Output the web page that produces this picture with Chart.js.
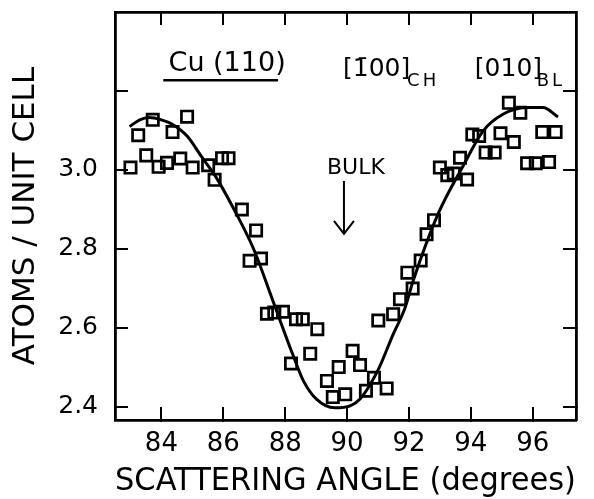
<!DOCTYPE html>
<html>
<head>
<meta charset="utf-8">
<script src="https://cdn.jsdelivr.net/npm/chart.js@4/dist/chart.umd.min.js"></script>
<style>
  html, body { margin: 0; background: #fff; }
  canvas { display: block; }
</style>
</head>
<body>
<canvas id="chart" width="594" height="499"></canvas>
<script>
// measured yield, atoms per unit cell vs scattering angle
const angle = [83.0, 83.25, 83.51, 83.72, 83.91, 84.18, 84.36, 84.61, 84.83, 85.01,
  85.51, 85.72, 85.96, 86.17, 86.60, 86.85, 87.06, 87.22, 87.41, 87.65,
  87.93, 88.19, 88.35, 88.57, 88.81, 89.04, 89.35, 89.54, 89.73, 89.94,
  90.18, 90.42, 90.61, 90.87, 91.01, 91.28, 91.49, 91.71, 91.95, 92.12,
  92.38, 92.57, 92.81, 93.00, 93.24, 93.45, 93.65, 93.88, 94.05, 94.27,
  94.48, 94.77, 94.96, 95.23, 95.39, 95.60, 95.82, 96.10, 96.31, 96.53, 96.74];
const atoms = [3.006, 3.088, 3.037, 3.127, 3.008, 3.018, 3.096, 3.029, 3.135, 3.006,
  3.012, 2.975, 3.030, 3.030, 2.900, 2.770, 2.847, 2.776, 2.636, 2.639,
  2.641, 2.510, 2.622, 2.622, 2.535, 2.597, 2.466, 2.425, 2.501, 2.432,
  2.542, 2.506, 2.441, 2.474, 2.619, 2.447, 2.635, 2.673, 2.740, 2.700,
  2.771, 2.837, 2.873, 3.006, 2.987, 2.991, 3.031, 2.976, 3.090, 3.086,
  3.044, 3.044, 3.093, 3.170, 3.071, 3.145, 3.017, 3.017, 3.096, 3.020, 3.096];

// calculated curve
const fitAngle = [82.97, 83.3, 83.6, 84.0, 84.35, 84.83, 85.33, 85.74, 86.28, 86.98,
  87.62, 88.25, 88.59, 89.02, 89.6, 90.1, 90.42, 90.98, 91.49, 91.87,
  92.14, 92.95, 93.75, 94.4, 95.04, 95.8, 96.33, 96.82];
const fitAtoms = [3.11, 3.127, 3.133, 3.127, 3.116, 3.086, 3.03, 2.985, 2.91, 2.80,
  2.665, 2.532, 2.466, 2.419, 2.398, 2.403, 2.42, 2.49, 2.584, 2.65,
  2.72, 2.89, 3.01, 3.099, 3.141, 3.158, 3.158, 3.134];

const xTicks = [84, 86, 88, 90, 92, 94, 96];
const xTickLabels = ['84', '86', '88', '90', '92', '94', '96'];
const yTicks = [2.4, 2.6, 2.8, 3.0, 3.2];
const yTickLabels = ['2.4', '2.6', '2.8', '3.0', ''];

const FONT = 'DejaVu Sans';
const X_MIN = 82.5, X_MAX = 97.4;
const Y_MIN = 2.367, Y_MAX = 3.4;

function toPoints(xs, ys) {
  return xs.map((v, i) => ({ x: v, y: ys[i] }));
}

// inward ticks on every side of the frame
function frameAxis(position, ticks, size, extra) {
  const horizontal = position === 'top' || position === 'bottom';
  return Object.assign({
    type: 'linear',
    position: position,
    min: horizontal ? X_MIN : Y_MIN,
    max: horizontal ? X_MAX : Y_MAX,
    afterBuildTicks: s => { s.ticks = ticks.map(v => ({ value: v })); },
    afterFit: s => {
      if (horizontal) s.height = size; else s.width = size;
      s.paddingTop = s.paddingBottom = s.paddingLeft = s.paddingRight = 0;
    },
    grid: { drawOnChartArea: false, drawTicks: true, tickLength: -13, lineWidth: 2, color: '#000' },
    border: { display: true, width: 2.8, color: '#000' },
    ticks: { display: false }
  }, extra || {});
}

const labelPlugin = {
  id: 'panelLabels',
  afterDatasetsDraw(chart) {
    const { ctx, scales: { x, y } } = chart;
    const px = v => x.getPixelForValue(v);
    const py = v => y.getPixelForValue(v);
    ctx.save();
    ctx.fillStyle = '#000';
    ctx.strokeStyle = '#000';
    ctx.textAlign = 'left';
    ctx.textBaseline = 'alphabetic';

    ctx.font = `27px "${FONT}"`;
    ctx.fillText('Cu (110)', px(84.23), py(3.25));
    ctx.lineWidth = 2.5;
    ctx.beginPath();
    ctx.moveTo(px(84.06), py(3.227));
    ctx.lineTo(px(87.77), py(3.227));
    ctx.stroke();

    ctx.font = `25px "${FONT}"`;
    ctx.fillText('[1\u030400]', px(89.87), py(3.237));
    ctx.fillText('[010]', px(94.13), py(3.237));
    ctx.font = `18px "${FONT}"`;
    ctx.letterSpacing = '3px';
    ctx.fillText('CH', px(91.94), py(3.212));
    ctx.fillText('BL', px(96.13), py(3.212));
    ctx.letterSpacing = '0px';

    ctx.font = `22px "${FONT}"`;
    ctx.fillText('BULK', px(89.35), py(2.99));

    // arrow marking the bulk angle
    const ax = px(89.9);
    const tip = py(2.838);
    ctx.lineWidth = 2;
    ctx.beginPath();
    ctx.moveTo(ax, py(2.972));
    ctx.lineTo(ax, tip);
    ctx.moveTo(ax - 10, tip - 13);
    ctx.lineTo(ax, tip);
    ctx.lineTo(ax + 10, tip - 13);
    ctx.stroke();
    ctx.restore();
  }
};

new Chart(document.getElementById('chart'), {
  type: 'scatter',
  data: {
    datasets: [
      {
        data: toPoints(fitAngle, fitAtoms),
        showLine: true,
        borderColor: '#000',
        borderWidth: 3,
        pointRadius: 0,
        cubicInterpolationMode: 'monotone'
      },
      {
        data: toPoints(angle, atoms),
        pointStyle: 'rect',
        pointRadius: 8,
        borderWidth: 2.7,
        borderColor: '#000',
        backgroundColor: 'rgba(0,0,0,0)'
      }
    ]
  },
  options: {
    responsive: false,
    animation: false,
    events: [],
    layout: { padding: 0, autoPadding: false },
    plugins: { legend: { display: false }, tooltip: { enabled: false } },
    scales: {
      x: frameAxis('bottom', xTicks, 79, {
        ticks: {
          display: true, autoSkip: false, maxRotation: 0, padding: 22, color: '#000',
          font: { family: FONT, size: 26 },
          callback: (v, i) => xTickLabels[i]
        },
        title: {
          display: true, text: 'SCATTERING ANGLE (degrees)', color: '#000',
          font: { family: FONT, size: 32, lineHeight: 1 }, padding: { top: 0, bottom: 1 }
        }
      }),
      xTop: frameAxis('top', xTicks, 12),
      y: frameAxis('left', yTicks, 115, {
        ticks: {
          display: true, autoSkip: false, padding: 30, color: '#000',
          font: { family: FONT, size: 25 },
          callback: (v, i) => yTickLabels[i]
        },
        title: {
          display: true, text: 'ATOMS / UNIT CELL', color: '#000',
          font: { family: FONT, size: 31, lineHeight: 1 }, padding: { top: 10, bottom: 0 }
        }
      }),
      yRight: frameAxis('right', yTicks, 18)
    }
  },
  plugins: [labelPlugin]
});
</script>
</body>
</html>
